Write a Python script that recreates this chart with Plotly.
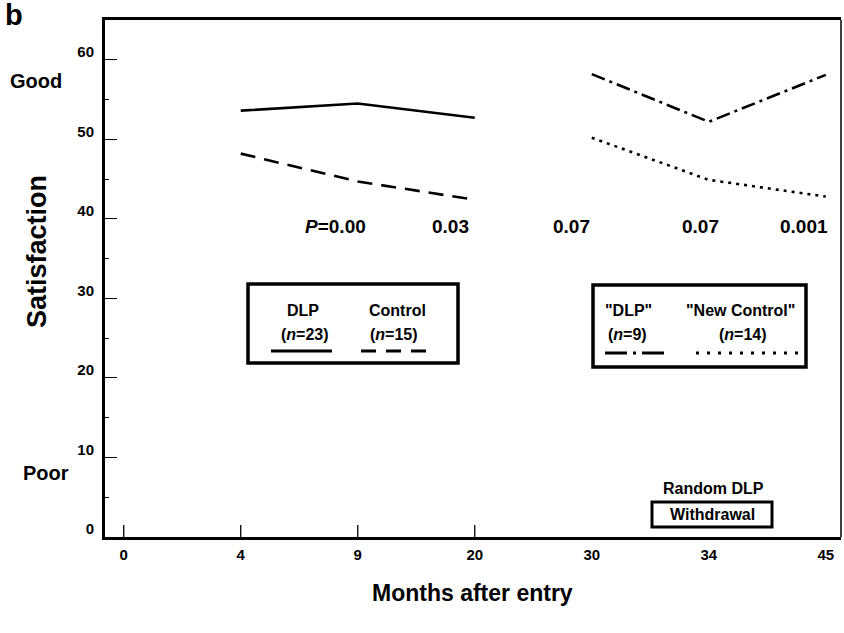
import plotly.graph_objects as go

# ---- data ----
months = ["0", "4", "9", "20", "30", "34", "45"]
first_months = ["4", "9", "20"]
second_months = ["30", "34", "45"]
dlp = [53.6, 54.5, 52.7]
control = [48.2, 44.7, 42.4]
dlp_late = [58.2, 52.2, 58.1]
new_control = [50.2, 44.9, 42.8]
p_months = ["9", "20", "30", "34", "45"]
p_labels = ["<i>P</i>=0.00", "0.03", "0.07", "0.07", "0.001"]
p_level = 39.0
y_ticks = [0, 10, 20, 30, 40, 50, 60]

FONT = "Liberation Sans, Arial, sans-serif"
W, H = 844, 633
L, R, T, B = 105, 3, 20, 96
PW, PH = W - L - R, H - T - B
p_shift = [10, -4, 0, 12, 4]


def px(x):
    return (x - L) / PW


def py(y):
    return (H - B - y) / PH


fig = go.Figure()
line_w = 2.6
fig.add_trace(go.Scatter(x=first_months, y=dlp, mode="lines",
                         line=dict(color="black", width=line_w, dash="solid")))
fig.add_trace(go.Scatter(x=first_months, y=control, mode="lines",
                         line=dict(color="black", width=line_w, dash="15px,9px")))
fig.add_trace(go.Scatter(x=second_months, y=dlp_late, mode="lines",
                         line=dict(color="black", width=line_w, dash="14px,5px,3px,5px")))
fig.add_trace(go.Scatter(x=second_months, y=new_control, mode="lines",
                         line=dict(color="black", width=line_w, dash="3px,5px")))

ann = []
for m, t, s in zip(p_months, p_labels, p_shift):
    ann.append(dict(x=months.index(m), y=p_level, xref="x", yref="y",
                    text=f"<b>{t}</b>", xshift=s,
                    showarrow=False, xanchor="right", yanchor="middle",
                    font=dict(family=FONT, size=19, color="black")))


def text(x, y, s, size, **kw):
    d = dict(x=px(x), y=py(y), xref="paper", yref="paper", text=f"<b>{s}</b>",
             showarrow=False, xanchor="center", yanchor="middle",
             font=dict(family=FONT, size=size, color="black"))
    d.update(kw)
    ann.append(d)


text(14, 15, "b", 29)
text(36, 81, "Good", 20)
text(46, 473, "Poor", 20)
text(37, 252, "Satisfaction", 27, textangle=-90)
text(472, 593, "Months after entry", 23)

# legend box 1
text(303, 310, "DLP", 16)
text(397, 310, "Control", 16)
text(305, 335, "(<i>n</i>=23)", 16)
text(394, 335, "(<i>n</i>=15)", 16)
# legend box 2
text(628, 310, '"DLP"', 16)
text(740, 310, '"New Control"', 16)
text(627, 335, "(<i>n</i>=9)", 16)
text(743, 335, "(<i>n</i>=14)", 16)
# withdrawal
text(713, 488, "Random DLP", 16)
text(712, 514, "Withdrawal", 16)

shapes = []


def rect(x0, y0, x1, y1, w):
    shapes.append(dict(type="rect", xref="paper", yref="paper",
                       x0=px(x0), x1=px(x1), y0=py(y0), y1=py(y1),
                       line=dict(color="black", width=w), fillcolor="rgba(0,0,0,0)"))


def seg(x0, x1, y, dash, w=3.2):
    shapes.append(dict(type="line", xref="paper", yref="paper",
                       x0=px(x0), x1=px(x1), y0=py(y), y1=py(y),
                       line=dict(color="black", width=w, dash=dash)))


rect(248, 284, 458, 363, 3.5)
rect(593, 285, 806, 367, 3.5)
rect(652, 502, 772, 527, 3)
seg(271, 332, 351, "solid")
seg(361, 428, 351, "15px,10px")
seg(605, 665, 353, "22px,6px,3px,6px")
seg(696, 801, 353, "3px,8px")

# x tick marks for the first four months
for m in months[:4]:
    shapes.append(dict(type="line", xref="x", yref="y",
                       x0=months.index(m), x1=months.index(m),
                       ysizemode="pixel", yanchor=0, y0=0, y1=12,
                       line=dict(color="black", width=1.3)))

# right frame line (thin)
shapes.append(dict(type="line", xref="paper", yref="paper", x0=1, x1=1, y0=0, y1=1,
                   line=dict(color="black", width=1.5)))

fig.update_layout(
    width=W, height=H, margin=dict(l=L, r=R, t=T, b=B, pad=0),
    paper_bgcolor="white", plot_bgcolor="white", showlegend=False,
    annotations=ann, shapes=shapes,
    xaxis=dict(type="category", categoryorder="array", categoryarray=months,
               tickvals=months, ticktext=[f"<b>{m}</b>" for m in months],
               range=[-0.16, 6.13], showgrid=False, zeroline=False,
               showline=True, linecolor="black", linewidth=3, mirror=True,
               ticks="", ticklabelstandoff=2,
               tickfont=dict(family=FONT, size=15, color="black")),
    yaxis=dict(range=[0, 65], tickvals=y_ticks,
               ticktext=[f"<b>{v}</b>" for v in y_ticks],
               showgrid=False, zeroline=False,
               showline=True, linecolor="black", linewidth=3, mirror=False,
               ticks="inside", ticklen=12, tickwidth=1.4, tickcolor="black",
               ticklabelstandoff=5, ticklabelshift=-8,
               minor=dict(dtick=5, ticks="inside", ticklen=4, tickwidth=1.2,
                          tickcolor="black", showgrid=False),
               tickfont=dict(family=FONT, size=15, color="black")),
)

fig.write_html("out.html")
